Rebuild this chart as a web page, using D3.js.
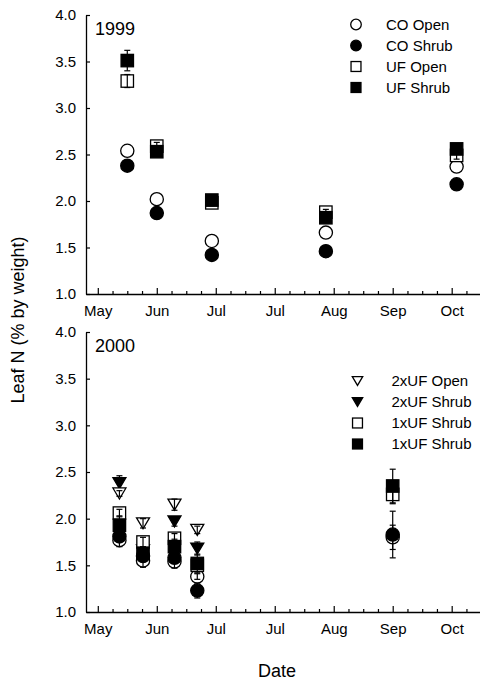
<!DOCTYPE html>
<html>
<head>
<meta charset="utf-8">
<script src="https://cdn.jsdelivr.net/npm/d3@7"></script>
<style>
  body { margin: 0; background: #fff; }
  svg { display: block; font-family: "Liberation Sans", Arial, sans-serif; }
  .domain { stroke: #000; stroke-width: 1.3; }
  .tick line { stroke: #000; stroke-width: 1.2; }
</style>
</head>
<body>
<svg id="chart" width="480" height="681"></svg>
<script>
// x positions are day of year, ticks every 30 days
var tickDays = [120, 150, 180, 210, 240, 270, 300];
var tickNames = ["May", "Jun", "Jul", "Jul", "Aug", "Sep", "Oct"];
var yTicks = [1.0, 1.5, 2.0, 2.5, 3.0, 3.5, 4.0];

// 1999
var days99 = [135, 150, 178, 236, 302.5];
var coOpen99 = [2.54, 2.02, 1.57, 1.66, 2.37];
var coOpen99Err = [0, 0, 0, 0, 0];
var coShrub99 = [2.38, 1.87, 1.42, 1.46, 2.18];
var coShrub99Err = [0.03, 0.03, 0.02, 0.03, 0.03];
var ufOpen99 = [3.29, 2.59, 1.98, 1.88, 2.49];
var ufOpen99Err = [0.07, 0.04, 0.03, 0.03, 0.04];
var ufShrub99 = [3.51, 2.53, 2.01, 1.82, 2.56];
var ufShrub99Err = [0.11, 0.04, 0.03, 0.04, 0.04];

// 2000
var days00 = [131, 143, 159, 170.6, 270];
var twoOpen00 = [2.27, 1.95, 2.15, 1.88, null];
var twoOpen00Err = [0.03, 0.05, 0.06, 0.04, null];
var twoShrub00 = [2.38, 1.66, 1.97, 1.68, null];
var twoShrub00Err = [0.08, 0.05, 0.05, 0.07, null];
var oneOpen00 = [2.06, 1.75, 1.79, 1.50, 2.26];
var oneOpen00Err = [0.04, 0.05, 0.05, 0.04, 0.10];
var oneShrub00 = [1.93, 1.63, 1.70, 1.52, 2.35];
var oneShrub00Err = [0.10, 0.05, 0.08, 0.10, 0.18];
var coOpen00 = [1.77, 1.55, 1.54, 1.38, 1.80];
var coOpen00Err = [0.07, 0.07, 0.07, 0.03, 0.13];
var coShrub00 = [1.81, 1.60, 1.58, 1.23, 1.83];
var coShrub00Err = [0.03, 0.03, 0.04, 0.08, 0.25];

var svg = d3.select("#chart");

var x = d3.scaleLinear().domain([114, 314.4]).range([86, 480]);

// marker drawing
function drawMarker(g, shape, filled, cx, cy, big) {
  var fill = filled ? "#000" : "#fff";
  var s = big ? 1 : 0.8;
  if (shape == "circle") {
    g.append("circle").attr("cx", cx).attr("cy", cy).attr("r", 6.6 * s)
      .attr("fill", fill).attr("stroke", "#000").attr("stroke-width", 1.3);
  } else if (shape == "square") {
    var h = 6.2 * s;
    g.append("rect").attr("x", cx - h).attr("y", cy - h).attr("width", 2 * h).attr("height", 2 * h)
      .attr("fill", fill).attr("stroke", "#000").attr("stroke-width", 1.3);
  } else {
    var w = 6.5 * s, t = 5.5 * s;
    g.append("path")
      .attr("d", "M" + (cx - w) + "," + (cy - t) + "L" + (cx + w) + "," + (cy - t) + "L" + cx + "," + (cy + t) + "Z")
      .attr("fill", fill).attr("stroke", "#000").attr("stroke-width", 1.3).attr("stroke-linejoin", "miter");
  }
}

function panel(top, bottom, label, days, series, legend, legX, legTextX, legY) {
  var y = d3.scaleLinear().domain([1, 4]).range([bottom, top]);
  var g = svg.append("g");

  // x axis major + minor
  var minor = d3.range(120 - 7.5, 315, 7.5).filter(function(d) { return d > 114 && d % 30 != 0; });
  g.append("g").attr("transform", "translate(0," + bottom + ")")
    .call(d3.axisBottom(x).tickValues(minor).tickSize(-3).tickFormat(""))
    .call(function(a) { a.select(".domain").remove(); });
  g.append("g").attr("transform", "translate(0," + bottom + ")")
    .call(d3.axisBottom(x).tickValues(tickDays).tickSizeInner(-6).tickSizeOuter(0).tickPadding(11)
      .tickFormat(function(d, i) { return tickNames[i]; }))
    .call(function(a) { a.selectAll("text").attr("font-size", 15).attr("fill", "#000").attr("font-family", "Liberation Sans, Arial"); });

  // y axis
  g.append("g").attr("transform", "translate(86,0)")
    .call(d3.axisLeft(y).tickValues(yTicks).tickSizeInner(-4).tickSizeOuter(0).tickPadding(10)
      .tickFormat(d3.format(".1f")))
    .call(function(a) { a.selectAll("text").attr("font-size", 15).attr("fill", "#000").attr("font-family", "Liberation Sans, Arial"); });

  g.append("text").attr("x", 95).attr("y", top + 20).attr("font-size", 18).text(label);

  series.forEach(function(s) {
    var sg = g.append("g");
    days.forEach(function(d, i) {
      if (s.vals[i] == null) return;
      drawMarker(sg, s.shape, s.filled, x(d), y(s.vals[i]), true);
    });
    days.forEach(function(d, i) {
      if (s.vals[i] == null || !s.err[i]) return;
      var cx = x(d), y1 = y(s.vals[i] - s.err[i]), y2 = y(s.vals[i] + s.err[i]);
      sg.append("line").attr("x1", cx).attr("x2", cx).attr("y1", y1).attr("y2", y2)
        .attr("stroke", "#000").attr("stroke-width", 1.2);
      [y1, y2].forEach(function(yy) {
        sg.append("line").attr("x1", cx - 3).attr("x2", cx + 3).attr("y1", yy).attr("y2", yy)
          .attr("stroke", "#000").attr("stroke-width", 1.2);
      });
    });
  });

  // legend
  legend.forEach(function(l, i) {
    var ly = legY + i * 21;
    drawMarker(g, l.shape, l.filled, legX, ly, false);
    g.append("text").attr("x", legTextX).attr("y", ly).attr("dy", "0.35em")
      .attr("font-size", 15).text(l.name);
  });
}

panel(15, 294, "1999", days99, [
  { shape: "circle", filled: false, vals: coOpen99, err: coOpen99Err },
  { shape: "circle", filled: true, vals: coShrub99, err: coShrub99Err },
  { shape: "square", filled: false, vals: ufOpen99, err: ufOpen99Err },
  { shape: "square", filled: true, vals: ufShrub99, err: ufShrub99Err }
], [
  { shape: "circle", filled: false, name: "CO Open" },
  { shape: "circle", filled: true, name: "CO Shrub" },
  { shape: "square", filled: false, name: "UF Open" },
  { shape: "square", filled: true, name: "UF Shrub" }
], 356, 386, 24.5);

panel(332, 612, "2000", days00, [
  { shape: "tri", filled: true, vals: twoShrub00, err: twoShrub00Err },
  { shape: "tri", filled: false, vals: twoOpen00, err: twoOpen00Err },
  { shape: "circle", filled: false, vals: coOpen00, err: coOpen00Err },
  { shape: "circle", filled: true, vals: coShrub00, err: coShrub00Err },
  { shape: "square", filled: false, vals: oneOpen00, err: oneOpen00Err },
  { shape: "square", filled: true, vals: oneShrub00, err: oneShrub00Err }
], [
  { shape: "tri", filled: false, name: "2xUF Open" },
  { shape: "tri", filled: true, name: "2xUF Shrub" },
  { shape: "square", filled: false, name: "1xUF Shrub" },
  { shape: "square", filled: true, name: "1xUF Shrub" }
], 357.5, 391.5, 381);

// axis titles
svg.append("text").attr("transform", "translate(24,320) rotate(-90)")
  .attr("text-anchor", "middle").attr("font-size", 18).text("Leaf N (% by weight)");
svg.append("text").attr("x", 277).attr("y", 677)
  .attr("text-anchor", "middle").attr("font-size", 18).text("Date");
</script>
</body>
</html>
